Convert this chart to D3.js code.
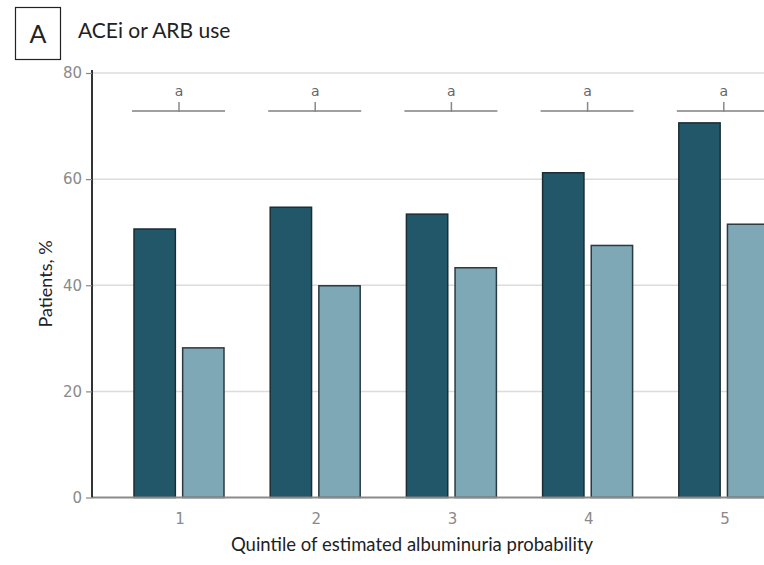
<!DOCTYPE html>
<html>
<head>
<meta charset="utf-8">
<script src="https://cdn.jsdelivr.net/npm/d3@7"></script>
<style>
  html, body { margin: 0; padding: 0; background: #fff; }
  svg { display: block; }
</style>
</head>
<body>
<svg id="chart" width="764" height="565"></svg>
<script>
// Quintiles of estimated albuminuria probability
const quintiles = ["1", "2", "3", "4", "5"];
// Percent of patients using ACEi or ARB, two groups per quintile
const groupA = [50.6, 54.7, 53.4, 61.2, 70.6];
const groupB = [28.2, 39.9, 43.3, 47.5, 51.5];
const sigLabels = ["a", "a", "a", "a", "a"];
const yTicks = [0, 20, 40, 60, 80];

const svg = d3.select("#chart");

const yAxisX = 92;
const y = d3.scaleLinear().domain([0, 80]).range([497.5, 73]);
const x = d3.scaleBand().domain(quintiles).range([112, 793]).paddingInner(0).paddingOuter(0);
// two bars inside each quintile band
const sub = d3.scaleBand().domain(["A", "B"]).range([22, 112]).paddingInner(0.15).paddingOuter(0);

// gridlines
svg.append("g").selectAll("line")
  .data(yTicks.filter(d => d > 0))
  .join("line")
  .attr("x1", yAxisX).attr("x2", 764)
  .attr("y1", d => y(d)).attr("y2", d => y(d))
  .attr("stroke", "#dcdcdc").attr("stroke-width", 1.5);

// bars
const groups = svg.append("g").selectAll("g")
  .data(quintiles.map((q, i) => ({ q, a: groupA[i], b: groupB[i], s: sigLabels[i] })))
  .join("g")
  .attr("transform", d => `translate(${x(d.q)},0)`);

groups.append("rect")
  .attr("x", sub("A")).attr("width", sub.bandwidth())
  .attr("y", d => y(d.a)).attr("height", d => y(0) - y(d.a))
  .attr("fill", "#22576a").attr("stroke", "#1b2e35").attr("stroke-width", 1.5);

groups.append("rect")
  .attr("x", sub("B")).attr("width", sub.bandwidth())
  .attr("y", d => y(d.b)).attr("height", d => y(0) - y(d.b))
  .attr("fill", "#7ea8b6").attr("stroke", "#2a3a40").attr("stroke-width", 1.5);

// significance brackets
const sigY = 111;
const mid = (sub("A") + sub("B") + sub.bandwidth()) / 2;
groups.append("line")
  .attr("x1", sub("A") - 2).attr("x2", sub("B") + sub.bandwidth() + 1)
  .attr("y1", sigY).attr("y2", sigY)
  .attr("stroke", "#a0a0a0").attr("stroke-width", 2);
groups.append("line")
  .attr("x1", mid).attr("x2", mid)
  .attr("y1", sigY - 9).attr("y2", sigY + 1)
  .attr("stroke", "#888").attr("stroke-width", 1.5);
groups.append("text")
  .attr("x", mid).attr("y", sigY - 15)
  .attr("text-anchor", "middle")
  .attr("font-family", "DejaVu Sans, sans-serif").attr("font-size", 14)
  .attr("fill", "#666")
  .text(d => d.s);

// x axis baseline
svg.append("line")
  .attr("x1", yAxisX).attr("x2", 764)
  .attr("y1", y(0)).attr("y2", y(0))
  .attr("stroke", "#8a8a8a").attr("stroke-width", 2);

// y axis
const yAxis = d3.axisLeft(y).tickValues(yTicks).tickSize(6).tickPadding(4);
const yg = svg.append("g").attr("transform", `translate(${yAxisX},0)`).call(yAxis);
yg.select(".domain").attr("stroke", "#333").attr("stroke-width", 2)
  .attr("d", `M0,${y(80) - 3}V${y(0)}`);
yg.selectAll(".tick line").attr("stroke", "#888").attr("stroke-width", 1.2);
yg.selectAll(".tick text")
  .attr("font-family", "DejaVu Sans, sans-serif").attr("font-size", 15)
  .attr("fill", "#8a8a8a");

// x axis tick labels
const xAxis = d3.axisBottom(x).tickSize(0).tickPadding(16);
const xg = svg.append("g").attr("transform", `translate(0,${y(0)})`).call(xAxis);
xg.select(".domain").remove();
xg.selectAll(".tick text")
  .attr("font-family", "DejaVu Sans, sans-serif").attr("font-size", 15)
  .attr("fill", "#8a8a8a");

// axis titles
svg.append("text")
  .attr("x", 412).attr("y", 551)
  .attr("text-anchor", "middle")
  .attr("font-family", "Lato, sans-serif").attr("font-size", 18.5)
  .attr("fill", "#222")
  .text("Quintile of estimated albuminuria probability");

svg.append("text")
  .attr("transform", "translate(52,284) rotate(-90)")
  .attr("text-anchor", "middle")
  .attr("font-family", "Lato, sans-serif").attr("font-size", 18)
  .attr("fill", "#222")
  .text("Patients, %");

// panel letter and title
svg.append("rect")
  .attr("x", 15.5).attr("y", 7.5).attr("width", 45).attr("height", 52)
  .attr("fill", "none").attr("stroke", "#222").attr("stroke-width", 1.2);
svg.append("text")
  .attr("x", 38).attr("y", 43)
  .attr("text-anchor", "middle")
  .attr("font-family", "Lato, sans-serif").attr("font-size", 25)
  .attr("fill", "#222")
  .text("A");
svg.append("text")
  .attr("x", 78).attr("y", 38)
  .attr("font-family", "Lato, sans-serif").attr("font-size", 21)
  .attr("fill", "#222")
  .text("ACEi or ARB use");
</script>
</body>
</html>
